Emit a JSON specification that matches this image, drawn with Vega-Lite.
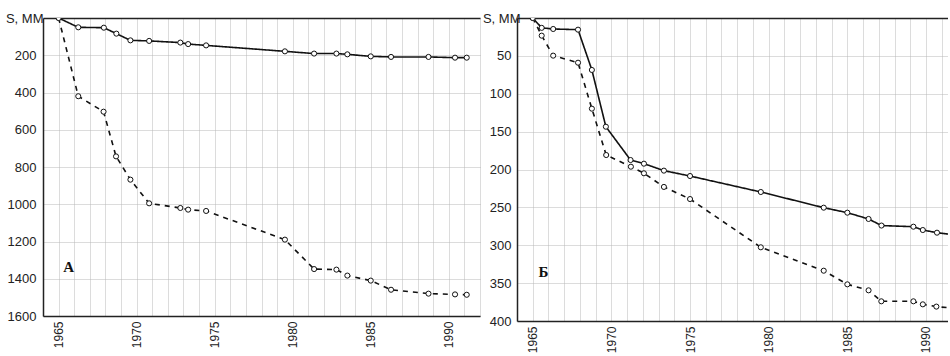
{
  "$schema": "https://vega.github.io/schema/vega-lite/v6.json",
  "padding": {"left": 5, "top": 12, "right": 0, "bottom": 0},
  "spacing": -4,
  "background": "white",
  "config": {
    "view": {"stroke": null},
    "axis": {
      "labelFont": "Liberation Sans",
      "labelFontSize": 13,
      "labelColor": "#222",
      "labelOverlap": false,
      "labelFlush": false,
      "domainColor": "#222",
      "domainWidth": 1.5,
      "gridColor": "#b8b8b8",
      "gridDash": [1, 1],
      "gridWidth": 1,
      "title": null,
      "tickSize": 0
    }
  },
  "datasets": {
    "a": [
      {"series": "solid", "year": 1965.0, "s": 0},
      {"series": "solid", "year": 1966.26, "s": 50},
      {"series": "solid", "year": 1967.9, "s": 52},
      {"series": "solid", "year": 1968.7, "s": 84},
      {"series": "solid", "year": 1969.6, "s": 120},
      {"series": "solid", "year": 1970.8, "s": 123},
      {"series": "solid", "year": 1972.8, "s": 132},
      {"series": "solid", "year": 1973.3, "s": 140},
      {"series": "solid", "year": 1974.45, "s": 147},
      {"series": "solid", "year": 1979.5, "s": 179},
      {"series": "solid", "year": 1981.37, "s": 191},
      {"series": "solid", "year": 1982.8, "s": 191},
      {"series": "solid", "year": 1983.5, "s": 195},
      {"series": "solid", "year": 1985.0, "s": 206},
      {"series": "solid", "year": 1986.3, "s": 209},
      {"series": "solid", "year": 1988.7, "s": 209},
      {"series": "solid", "year": 1990.4, "s": 213},
      {"series": "solid", "year": 1991.15, "s": 213},
      {"series": "dashed", "year": 1965.0, "s": 0},
      {"series": "dashed", "year": 1966.26, "s": 420},
      {"series": "dashed", "year": 1967.88, "s": 503},
      {"series": "dashed", "year": 1968.68, "s": 743},
      {"series": "dashed", "year": 1969.6, "s": 868},
      {"series": "dashed", "year": 1970.8, "s": 995},
      {"series": "dashed", "year": 1972.8, "s": 1020},
      {"series": "dashed", "year": 1973.3, "s": 1029},
      {"series": "dashed", "year": 1974.45, "s": 1036},
      {"series": "dashed", "year": 1979.5, "s": 1190},
      {"series": "dashed", "year": 1981.37, "s": 1348},
      {"series": "dashed", "year": 1982.8, "s": 1351},
      {"series": "dashed", "year": 1983.5, "s": 1383},
      {"series": "dashed", "year": 1985.0, "s": 1410},
      {"series": "dashed", "year": 1986.3, "s": 1459},
      {"series": "dashed", "year": 1988.7, "s": 1480},
      {"series": "dashed", "year": 1990.4, "s": 1484},
      {"series": "dashed", "year": 1991.15, "s": 1486}
    ],
    "b": [
      {"series": "solid", "year": 1965.0, "s": 0},
      {"series": "solid", "year": 1965.57, "s": 13},
      {"series": "solid", "year": 1966.3, "s": 14.5},
      {"series": "solid", "year": 1967.88, "s": 15.4},
      {"series": "solid", "year": 1968.76, "s": 68.6},
      {"series": "solid", "year": 1969.65, "s": 143.5},
      {"series": "solid", "year": 1971.22, "s": 187.5},
      {"series": "solid", "year": 1972.07, "s": 192.3},
      {"series": "solid", "year": 1973.34, "s": 201.5},
      {"series": "solid", "year": 1975.0, "s": 208.6},
      {"series": "solid", "year": 1979.5, "s": 229.7},
      {"series": "solid", "year": 1983.5, "s": 250.4},
      {"series": "solid", "year": 1985.0, "s": 257},
      {"series": "solid", "year": 1986.35, "s": 265.3},
      {"series": "solid", "year": 1987.17, "s": 274},
      {"series": "solid", "year": 1989.2, "s": 275.5},
      {"series": "solid", "year": 1989.8, "s": 279.9},
      {"series": "solid", "year": 1990.7, "s": 283.4},
      {"series": "solid", "year": 1991.7, "s": 286},
      {"series": "dashed", "year": 1965.0, "s": 0},
      {"series": "dashed", "year": 1965.57, "s": 23.3},
      {"series": "dashed", "year": 1966.3, "s": 49.7},
      {"series": "dashed", "year": 1967.88, "s": 59},
      {"series": "dashed", "year": 1968.76, "s": 119.7},
      {"series": "dashed", "year": 1969.67, "s": 180.9},
      {"series": "dashed", "year": 1971.24, "s": 196.3},
      {"series": "dashed", "year": 1972.07, "s": 205},
      {"series": "dashed", "year": 1973.34, "s": 223},
      {"series": "dashed", "year": 1975.0, "s": 239},
      {"series": "dashed", "year": 1979.5, "s": 302.7},
      {"series": "dashed", "year": 1983.5, "s": 333.6},
      {"series": "dashed", "year": 1985.0, "s": 351.6},
      {"series": "dashed", "year": 1986.35, "s": 359.5},
      {"series": "dashed", "year": 1987.16, "s": 374},
      {"series": "dashed", "year": 1989.2, "s": 374},
      {"series": "dashed", "year": 1989.8, "s": 378},
      {"series": "dashed", "year": 1990.66, "s": 381},
      {"series": "dashed", "year": 1991.7, "s": 383}
    ]
  },
  "hconcat": [
    {
      "width": 437,
      "height": 298,
      "resolve": {"axis": {"x": "independent", "y": "independent"}},
      "layer": [
        {
          "data": {"name": "a"},
          "mark": {"type": "line", "color": "#111", "strokeWidth": 1.6, "clip": true},
          "encoding": {
            "x": {
              "field": "year", "type": "quantitative",
              "scale": {"domain": [1964, 1992], "nice": false, "zero": false},
              "axis": {
                "values": [1964,1965,1966,1967,1968,1969,1970,1971,1972,1973,1974,1975,1976,1977,1978,1979,1980,1981,1982,1983,1984,1985,1986,1987,1988,1989,1990,1991,1992],
                "format": "d",
                "labelExpr": "datum.value % 5 == 0 ? datum.label : ''",
                "labelAngle": -90,
                "labelFontSize": 12,
                "labelPadding": 5,
                "grid": true
              }
            },
            "y": {
              "field": "s", "type": "quantitative",
              "scale": {"domain": [0, 1600], "reverse": true, "nice": false},
              "axis": {
                "values": [0, 200, 400, 600, 800, 1000, 1200, 1400, 1600],
                "format": "d",
                "labelOverlap": false,
                "labelExpr": "datum.value == 0 ? 'S, ММ' : datum.label",
                "labelPadding": {"condition": {"test": "datum.value == 0", "value": 0}, "value": 7},
                "grid": true
              }
            },
            "strokeDash": {
              "field": "series", "type": "nominal",
              "scale": {"domain": ["solid", "dashed"], "range": [[1, 0], [5, 5]]},
              "legend": null
            }
          }
        },
        {
          "data": {"name": "a"},
          "mark": {"type": "point", "filled": true, "fill": "white", "stroke": "#111", "strokeWidth": 1, "size": 26, "opacity": 1, "clip": true},
          "encoding": {
            "x": {"field": "year", "type": "quantitative", "axis": {"orient": "top", "labels": false, "ticks": false, "grid": false, "domain": true}},
            "y": {"field": "s", "type": "quantitative", "axis": null}
          }
        },
        {
          "data": {"values": [{"label": "А"}]},
          "mark": {"type": "text", "font": "Liberation Serif", "fontSize": 15, "fontWeight": "bold", "align": "left", "baseline": "alphabetic", "color": "#111"},
          "encoding": {
            "text": {"field": "label"},
            "x": {"datum": 1965.3, "type": "quantitative", "axis": null},
            "y": {"datum": 1364, "type": "quantitative", "axis": null}
          }
        }
      ]
    },
    {
      "width": 431,
      "height": 303,
      "resolve": {"axis": {"x": "independent", "y": "independent"}},
      "layer": [
        {
          "data": {"name": "b"},
          "mark": {"type": "line", "color": "#111", "strokeWidth": 1.6, "clip": true},
          "encoding": {
            "x": {
              "field": "year", "type": "quantitative",
              "scale": {"domain": [1964, 1991.4], "nice": false, "zero": false},
              "axis": {
                "values": [1964,1965,1966,1967,1968,1969,1970,1971,1972,1973,1974,1975,1976,1977,1978,1979,1980,1981,1982,1983,1984,1985,1986,1987,1988,1989,1990,1991],
                "format": "d",
                "labelExpr": "datum.value % 5 == 0 ? datum.label : ''",
                "labelAngle": -90,
                "labelFontSize": 12,
                "labelPadding": 5,
                "grid": true
              }
            },
            "y": {
              "field": "s", "type": "quantitative",
              "scale": {"domain": [0, 400], "reverse": true, "nice": false},
              "axis": {
                "values": [0, 50, 100, 150, 200, 250, 300, 350, 400],
                "format": "d",
                "labelOverlap": false,
                "labelExpr": "datum.value == 0 ? 'S, ММ' : datum.label",
                "labelPadding": {"condition": {"test": "datum.value == 0", "value": -3}, "value": 6},
                "grid": true
              }
            },
            "strokeDash": {
              "field": "series", "type": "nominal",
              "scale": {"domain": ["solid", "dashed"], "range": [[1, 0], [5, 5]]},
              "legend": null
            }
          }
        },
        {
          "data": {"name": "b"},
          "mark": {"type": "point", "filled": true, "fill": "white", "stroke": "#111", "strokeWidth": 1, "size": 26, "opacity": 1, "clip": true},
          "encoding": {
            "x": {"field": "year", "type": "quantitative", "axis": {"orient": "top", "labels": false, "ticks": false, "grid": false, "domain": true}},
            "y": {"field": "s", "type": "quantitative", "axis": null}
          }
        },
        {
          "data": {"values": [{"label": "Б"}]},
          "mark": {"type": "text", "font": "Liberation Serif", "fontSize": 15, "fontWeight": "bold", "align": "left", "baseline": "alphabetic", "color": "#111"},
          "encoding": {
            "text": {"field": "label"},
            "x": {"datum": 1965.36, "type": "quantitative", "axis": null},
            "y": {"datum": 341.5, "type": "quantitative", "axis": null}
          }
        }
      ]
    }
  ]
}
